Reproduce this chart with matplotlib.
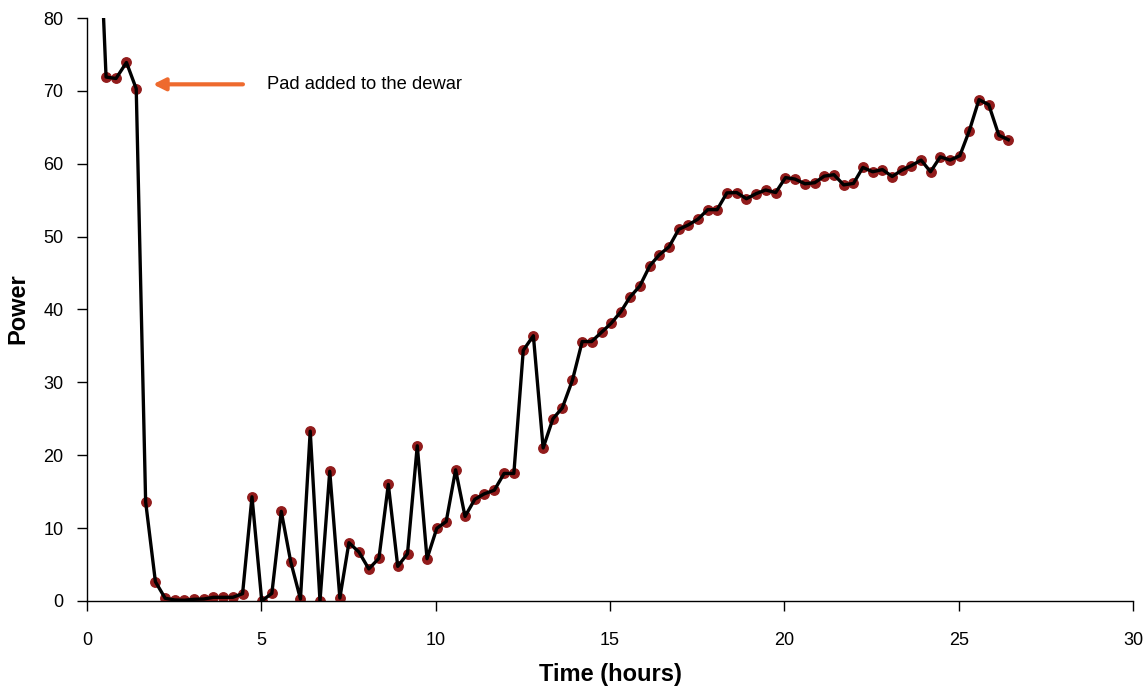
import matplotlib
matplotlib.use("Agg")
import matplotlib.pyplot as plt

# time (hours) and power readings
time_h = [0.27, 0.545, 0.83, 1.13, 1.41, 1.68, 1.96, 2.24, 2.51, 2.79, 3.07, 3.35, 3.62, 3.90,
          4.18, 4.46, 4.73, 5.01, 5.30, 5.57, 5.84, 6.12, 6.40, 6.68, 6.96, 7.25, 7.51,
          7.80, 8.08, 8.37, 8.64, 8.91, 9.19, 9.47, 9.75, 10.03, 10.30, 10.57, 10.84,
          11.12, 11.39, 11.68, 11.96, 12.24, 12.51, 12.80, 13.08, 13.36, 13.63, 13.92,
          14.20, 14.47, 14.76, 15.03, 15.31, 15.57, 15.85, 16.14, 16.41, 16.69, 16.97,
          17.24, 17.52, 17.80, 18.07, 18.35, 18.63, 18.91, 19.19, 19.46, 19.75, 20.03,
          20.30, 20.59, 20.87, 21.14, 21.42, 21.70, 21.98, 22.25, 22.53, 22.81, 23.09,
          23.36, 23.64, 23.92, 24.19, 24.47, 24.75, 25.03, 25.30, 25.58, 25.86, 26.15, 26.42]
power = [103.0, 71.9, 71.7, 73.9, 70.3, 13.6, 2.65, 0.37, 0.14, 0.1, 0.23, 0.27, 0.5, 0.5,
         0.5, 1.0, 14.3, 0.0, 1.05, 12.3, 5.4, 0.27, 23.3, 0.0, 17.8, 0.4, 8.0,
         6.7, 4.4, 5.85, 16.0, 4.75, 6.5, 21.3, 5.8, 9.97, 10.9, 18.0, 11.6,
         13.95, 14.7, 15.2, 17.5, 17.5, 34.4, 36.4, 21.0, 25.0, 26.5, 30.3,
         35.6, 35.6, 36.9, 38.1, 39.7, 41.7, 43.2, 46.0, 47.5, 48.6, 51.0,
         51.6, 52.4, 53.7, 53.7, 56.0, 56.05, 55.2, 55.9, 56.4, 56.05, 58.1,
         57.9, 57.25, 57.4, 58.3, 58.5, 57.1, 57.3, 59.5, 58.9, 59.2, 58.25,
         59.1, 59.75, 60.5, 58.9, 60.95, 60.5, 61.1, 64.5, 68.8, 68.1, 63.9, 63.3]

note = "Pad added to the dewar"

plt.rcParams['font.family'] = ['Liberation Sans', 'DejaVu Sans']

fig = plt.figure(figsize=(11.47, 6.93), dpi=100)
ax = fig.add_axes([0.0759, 0.1328, 0.912, 0.8412])

# red markers under the black line
ax.plot(time_h, power, 'o', ms=6.8, color='#921c1c', mec='#921c1c', zorder=2)
ax.plot(time_h, power, '-', lw=2.4, color='black', zorder=3)

ax.set_xlim(0, 30)
ax.set_ylim(0, 80)
ax.set_xticks(range(0, 31, 5))
ax.set_yticks(range(0, 81, 10))

for s in ['top', 'right']:
    ax.spines[s].set_visible(False)
ax.spines['left'].set_linewidth(1.0)
ax.spines['bottom'].set_linewidth(1.0)
ax.tick_params(axis='both', direction='out', length=7, width=1.0, labelsize=13)
ax.tick_params(axis='x', pad=15)
ax.tick_params(axis='y', pad=10)

fig.text(0.532, 0.026, "Time (hours)", fontsize=17, fontweight='bold', ha='center', va='center')
fig.text(0.016, 0.555, "Power", fontsize=17, fontweight='bold', ha='center', va='center', rotation=90)

ax.annotate("", xy=(1.81, 70.9), xytext=(4.55, 70.9),
            arrowprops=dict(arrowstyle='-|>', color='#ee6a2e', lw=3, mutation_scale=18))
ax.text(5.16, 70.9, note, fontsize=13.2, va='center', ha='left')

fig.savefig("out.png", dpi=100)
